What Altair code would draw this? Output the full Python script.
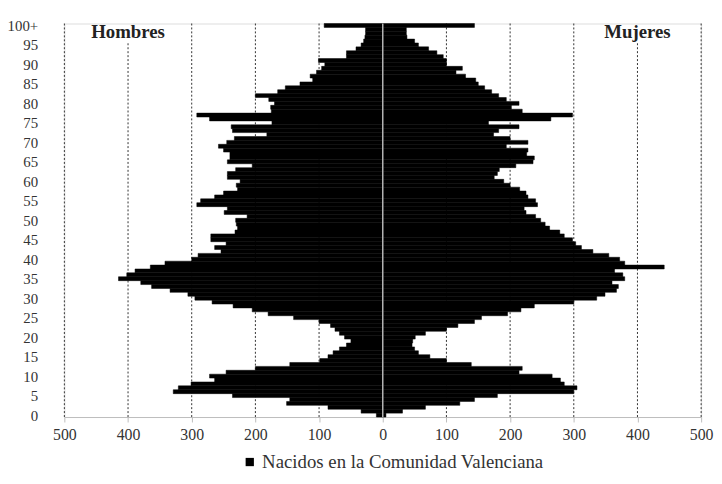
import altair as alt
import pandas as pd

ages = list(range(101))

# Hombres (age 0 .. 100+)
hombres = [10, 34, 86, 151, 146, 236, 329, 321, 301, 264,
           272, 246, 200, 146, 99, 86, 78, 68, 57, 50,
           60, 68, 75, 82, 100, 140, 180, 205, 235, 268,
           295, 306, 334, 363, 380, 415, 402, 389, 365, 342,
           300, 290, 254, 264, 246, 270, 270, 232, 228, 230,
           231, 213, 249, 244, 292, 286, 264, 250, 228, 230,
           224, 244, 244, 231, 205, 244, 240, 240, 250, 258,
           245, 233, 182, 236, 238, 174, 272, 292, 175, 176,
           170, 179, 200, 165, 153, 130, 110, 114, 104, 96,
           91, 101, 57, 57, 42, 34, 30, 28, 27, 27,
           92]

# Mujeres (age 0 .. 100+)
mujeres = [5, 31, 67, 121, 144, 180, 300, 305, 285, 279,
           266, 214, 219, 139, 100, 74, 56, 50, 46, 47,
           51, 67, 100, 118, 144, 155, 196, 217, 238, 300,
           336, 349, 367, 370, 360, 380, 377, 364, 442, 380,
           372, 355, 330, 312, 303, 298, 285, 278, 262, 255,
           248, 240, 225, 222, 243, 240, 228, 225, 215, 200,
           190, 175, 180, 183, 209, 236, 238, 226, 228, 194,
           228, 200, 174, 182, 214, 166, 264, 298, 219, 202,
           214, 194, 182, 171, 160, 150, 146, 130, 115, 125,
           100, 100, 95, 85, 72, 56, 50, 38, 37, 37,
           144]

serie = "Nacidos en la Comunidad Valenciana"
x_ticks = [-500, -400, -300, -200, -100, 0, 100, 200, 300, 400, 500]
y_ticks = list(range(0, 101, 5))
grid_vals = [v for v in x_ticks if v != 0]
titles = ["Hombres", "Mujeres"]
title_pos = [-400, 400]

rows = []
for a, h, m in zip(ages, hombres, mujeres):
    rows.append({"lo": a - 0.5, "hi": a + 0.5, "x0": 0, "x1": -h, "serie": serie})
    rows.append({"lo": a - 0.5, "hi": a + 0.5, "x0": 0, "x1": m, "serie": serie})
bars_df = pd.DataFrame(rows)

grid_df = pd.DataFrame({
    "x0": grid_vals,
    "lo": [-0.5] * len(grid_vals),
    "hi": [95.6 if abs(v) == 400 else 100.5 for v in grid_vals],
})
zero_df = pd.DataFrame({"x0": [0], "lo": [-0.5], "hi": [100.5]})
title_df = pd.DataFrame({"x0": title_pos, "lo": [98.3, 98.3], "t": titles})

FONT = "Liberation Serif"
xscale = alt.Scale(domain=[-500, 500], nice=False, zero=False)
yscale = alt.Scale(domain=[-0.5, 100.5], nice=False, zero=False)

ax_x = alt.Axis(values=x_ticks, labelExpr="abs(datum.value)", grid=False, title=None,
                domainColor="#bdbdbd", tickColor="#bdbdbd", tickSize=5, domainWidth=1,
                labelFlush=False, labelFont=FONT, labelFontSize=16, labelColor="#333333",
                labelPadding=5)
ax_y = alt.Axis(values=y_ticks, labelExpr="datum.value == 100 ? '100+' : datum.value",
                grid=False, ticks=False, domain=False, title=None,
                labelFont=FONT, labelFontSize=15, labelColor="#333333", labelPadding=27)

X = alt.X("x0:Q", scale=xscale, axis=ax_x)
Y = alt.Y("lo:Q", scale=yscale, axis=ax_y)

grid = alt.Chart(grid_df).mark_rule(color="#333333", strokeWidth=1, strokeDash=[2, 2]).encode(
    x=X, y=Y, y2="hi:Q",
)

bars = alt.Chart(bars_df).mark_rect(stroke="#000000", strokeWidth=0.5).encode(
    x=X,
    x2="x1:Q",
    y=Y,
    y2="hi:Q",
    color=alt.Color("serie:N", scale=alt.Scale(domain=[serie], range=["#000000"]),
                    legend=alt.Legend(orient="none", legendX=178, legendY=434, title=None,
                                      symbolType="square", symbolSize=70, symbolStrokeWidth=0,
                                      labelFont=FONT, labelFontSize=19, labelColor="#333333",
                                      labelLimit=0, padding=0, labelOffset=3)),
)

zero = alt.Chart(zero_df).mark_rule(color="#b5b5b5", strokeWidth=1.5).encode(
    x=X, y=Y, y2="hi:Q",
)

title_txt = alt.Chart(title_df).mark_text(font=FONT, fontSize=19, fontWeight="bold",
                                          color="#222222", baseline="middle", align="center").encode(
    x=X, y=Y, text="t:N",
)

chart = alt.layer(grid, bars, zero, title_txt).properties(
    width=644, height=398,
    autosize=alt.AutoSizeParams(type="none"),
    padding={"left": 57, "top": 13, "right": 13, "bottom": 60},
).configure_view(stroke=None).configure(background="white")

chart.save("out.html", embed_options={"renderer": "svg", "actions": False})
